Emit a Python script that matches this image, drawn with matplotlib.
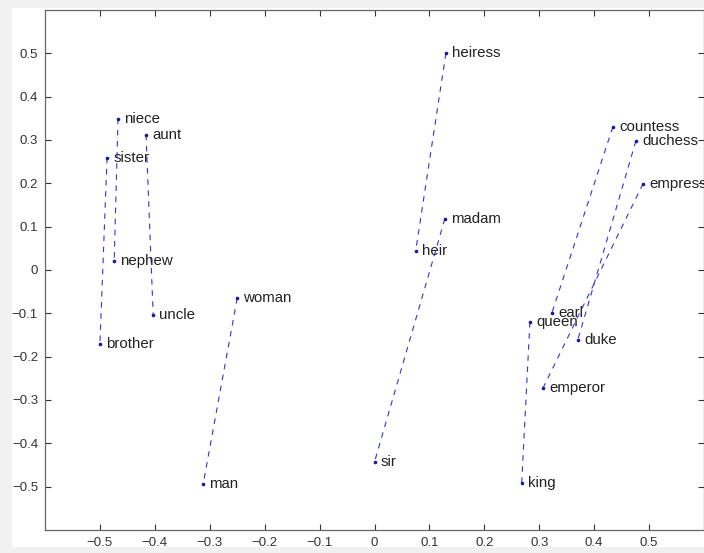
import matplotlib
matplotlib.use("Agg")

import matplotlib.pyplot as plt
from matplotlib.patches import Rectangle

# word positions in the 2D projection
words = ["niece", "aunt", "sister", "nephew", "uncle", "brother",
         "woman", "man", "heiress", "madam", "heir", "sir",
         "countess", "duchess", "empress", "earl", "queen", "duke",
         "emperor", "king"]
xs = [-0.467, -0.416, -0.487, -0.474, -0.403, -0.500,
      -0.250, -0.312, 0.130, 0.128, 0.075, 0.000,
      0.434, 0.476, 0.489, 0.323, 0.283, 0.370,
      0.307, 0.268]
ys = [0.349, 0.312, 0.259, 0.021, -0.104, -0.171,
      -0.065, -0.494, 0.500, 0.118, 0.044, -0.443,
      0.330, 0.298, 0.199, -0.099, -0.120, -0.162,
      -0.272, -0.492]

# female -> male pairs joined by dashed lines
pairs = [("niece", "nephew"), ("aunt", "uncle"), ("sister", "brother"),
         ("woman", "man"), ("heiress", "heir"), ("madam", "sir"),
         ("countess", "earl"), ("duchess", "duke"), ("empress", "emperor"),
         ("queen", "king")]

ticks = [-0.5, -0.4, -0.3, -0.2, -0.1, 0, 0.1, 0.2, 0.3, 0.4, 0.5]
tick_labels = ["\u22120.5", "\u22120.4", "\u22120.3", "\u22120.2", "\u22120.1", "0",
               "0.1", "0.2", "0.3", "0.4", "0.5"]

plt.rcParams["font.family"] = ["Liberation Sans", "DejaVu Sans"]

fig = plt.figure(figsize=(7.04, 5.53), dpi=100)
fig.patch.set_facecolor("#f1f1f1")
fig.patches.append(Rectangle((12 / 704, 6 / 553), 692 / 704, 539 / 553,
                             transform=fig.transFigure, facecolor="white",
                             edgecolor="none", zorder=-5))

ax = fig.add_axes([45 / 704, 1 - 530 / 553, 659 / 704, 520 / 553])
ax.set_zorder(2)
ax.set_facecolor("white")

pos = {w: (x, y) for w, x, y in zip(words, xs, ys)}
for a, b in pairs:
    (x1, y1), (x2, y2) = pos[a], pos[b]
    ax.plot([x1, x2], [y1, y2], color="#3434d8", linestyle=(0, (5, 5)),
            linewidth=0.8)

ax.plot(xs, ys, linestyle="none", marker="o", markersize=1.6,
        color="#1a1aa0")

for w, x, y in zip(words, xs, ys):
    ax.annotate(w, (x, y), xytext=(4.5, 0), textcoords="offset points",
                va="center", ha="left", fontsize=10.8, color="#222222")

ax.set_xlim(-0.6, 0.6)
ax.set_ylim(-0.6, 0.6)
ax.set_xticks(ticks)
ax.set_xticklabels(tick_labels)
ax.set_yticks(ticks)
ax.set_yticklabels(tick_labels)
ax.tick_params(direction="in", length=4, width=0.8, top=True, right=True,
               labelsize=9.5, colors="#333333", pad=5)
for s in ax.spines.values():
    s.set_color("#666666")
    s.set_linewidth(0.9)

fig.savefig("out.png", dpi=100, facecolor=fig.get_facecolor())
